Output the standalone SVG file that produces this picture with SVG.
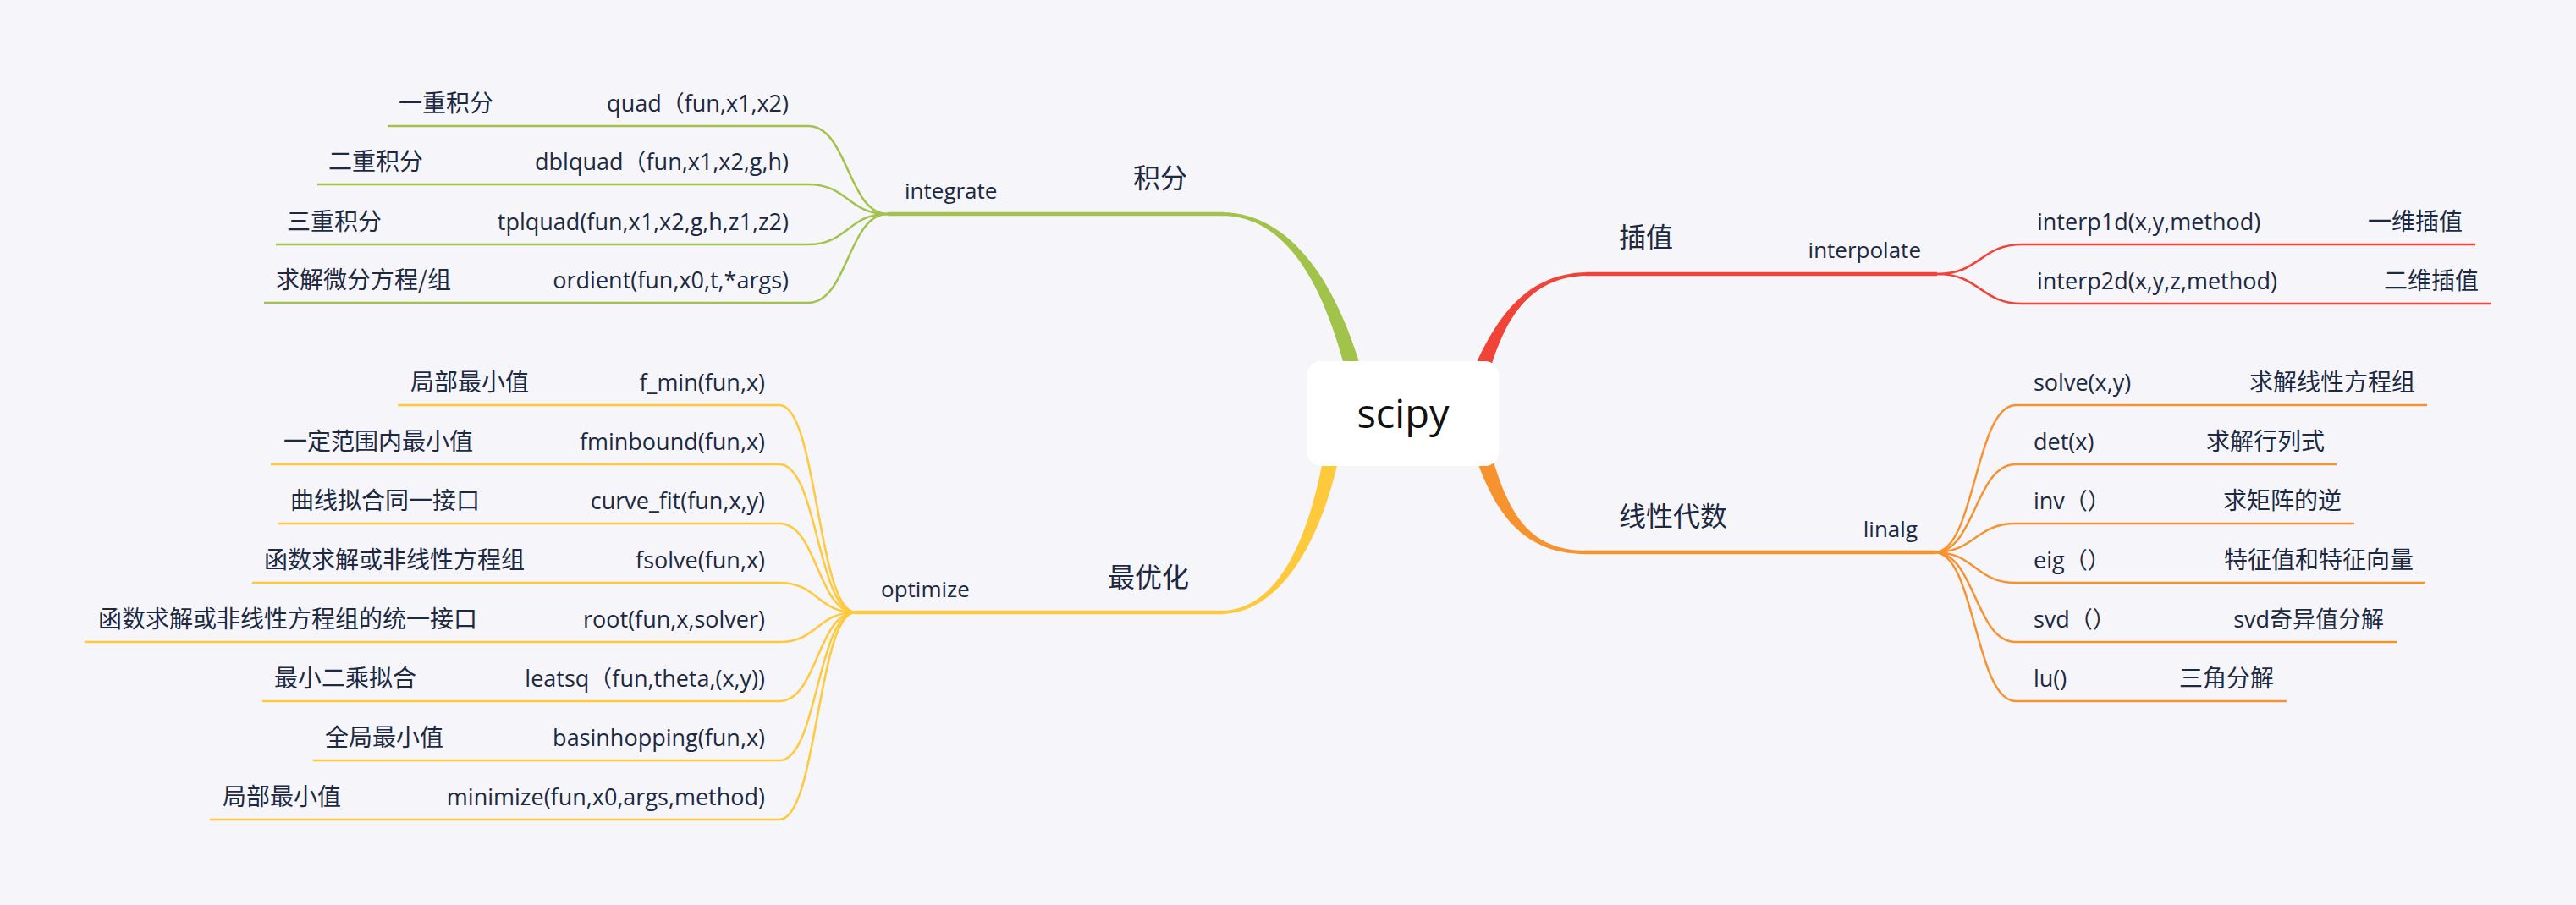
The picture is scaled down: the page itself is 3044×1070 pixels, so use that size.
<svg xmlns="http://www.w3.org/2000/svg" width="3044" height="1070" viewBox="0 0 3044 1070">
<style>
.t{font-family:"Open Sans","Noto Sans CJK SC",sans-serif;font-size:27px;fill:#1c2940}
.c{font-family:"Noto Sans CJK SC","Open Sans",sans-serif;font-size:28px;fill:#1c2940}
.s{font-family:"Open Sans","Noto Sans CJK SC",sans-serif;font-size:26px;fill:#1c2940}
.m{font-family:"Noto Sans CJK SC",sans-serif;font-size:32px;fill:#1c2940}
.e{text-anchor:end}
.lg{fill:none;stroke:#a2c34a;stroke-width:2.5}
.ly{fill:none;stroke:#fec93b;stroke-width:2.5}
.lr{fill:none;stroke:#f04438;stroke-width:2.5}
.lo{fill:none;stroke:#f7932f;stroke-width:2.5}
</style>
<rect width="3044" height="1070" fill="#f5f5fa"/>
<g id="connectors">
  <!-- main tapered branches -->
  <path d="M1443,251 C1521,251 1577,327 1609,438 L1591,442 C1563,333 1519,255 1443,255 Z" fill="#a2c34a"/>
  <line x1="1049" y1="253" x2="1446" y2="253" stroke="#a2c34a" stroke-width="4.5"/>
  <path d="M1443,726 C1511,726 1562,642 1584,532 L1566,528 C1548,638 1509,722 1443,722 Z" fill="#fec93b"/>
  <line x1="1011" y1="724" x2="1446" y2="724" stroke="#fec93b" stroke-width="4.5"/>
  <path d="M1877,322 C1809,322 1771,368 1741,437 L1759,443 C1779,372 1811,326 1877,326 Z" fill="#f04438"/>
  <line x1="1874" y1="324" x2="2289" y2="324" stroke="#f04438" stroke-width="4.5"/>
  <path d="M1875,651 C1807,651 1782,608 1761,532 L1743,538 C1768,612 1803,655 1875,655 Z" fill="#f7932f"/>
  <line x1="1872" y1="653" x2="2287" y2="653" stroke="#f7932f" stroke-width="4.5"/>

  <!-- integrate leaves -->
  <path class="lg" d="M458,149 H955 C1002,149 1002,253 1049,253"/>
  <path class="lg" d="M375,218 H955 C1002,218 1002,253 1049,253"/>
  <path class="lg" d="M326,289 H955 C1002,289 1002,253 1049,253"/>
  <path class="lg" d="M312,358 H955 C1002,358 1002,253 1049,253"/>

  <!-- optimize leaves -->
  <path class="ly" d="M470,479 H921 C966,479 966,724 1011,724"/>
  <path class="ly" d="M320,549 H921 C966,549 966,724 1011,724"/>
  <path class="ly" d="M328,619 H921 C966,619 966,724 1011,724"/>
  <path class="ly" d="M298,689 H921 C966,689 966,724 1011,724"/>
  <path class="ly" d="M100,759 H921 C966,759 966,724 1011,724"/>
  <path class="ly" d="M310,829 H921 C966,829 966,724 1011,724"/>
  <path class="ly" d="M370,899 H921 C966,899 966,724 1011,724"/>
  <path class="ly" d="M248,969 H921 C966,969 966,724 1011,724"/>

  <!-- interpolate leaves -->
  <path class="lr" d="M2289,324 C2340,324 2340,289 2390,289 H2925"/>
  <path class="lr" d="M2289,324 C2340,324 2340,359 2390,359 H2944"/>

  <!-- linalg leaves -->
  <path class="lo" d="M2286,653 C2334,653 2334,479 2382,479 H2868"/>
  <path class="lo" d="M2286,653 C2334,653 2334,549 2382,549 H2761"/>
  <path class="lo" d="M2286,653 C2334,653 2334,619 2382,619 H2782"/>
  <path class="lo" d="M2286,653 C2334,653 2334,689 2382,689 H2866"/>
  <path class="lo" d="M2286,653 C2334,653 2334,759 2382,759 H2832"/>
  <path class="lo" d="M2286,653 C2334,653 2334,829 2382,829 H2702"/>
</g>

<g id="root">
  <rect x="1545" y="427" width="226" height="124" rx="16" fill="#ffffff"/>
  <text x="1658" y="506" text-anchor="middle" font-family="'Open Sans',sans-serif" font-size="47" fill="#111111">scipy</text>
</g>

<g id="branch-integrate">
  <text class="m" x="1339" y="222">积分</text>
  <text class="s" x="1069" y="235">integrate</text>
</g>
<g id="leaf-int-1"><text class="c" x="471" y="132">一重积分</text><text class="t e" x="932" y="132">quad（fun,x1,x2)</text></g>
<g id="leaf-int-2"><text class="c" x="388" y="201">二重积分</text><text class="t e" x="932" y="201">dblquad（fun,x1,x2,g,h)</text></g>
<g id="leaf-int-3"><text class="c" x="339" y="272">三重积分</text><text class="t e" x="932" y="272">tplquad(fun,x1,x2,g,h,z1,z2)</text></g>
<g id="leaf-int-4"><text class="c" x="326" y="341">求解微分方程/组</text><text class="t e" x="932" y="341">ordient(fun,x0,t,*args)</text></g>

<g id="branch-optimize">
  <text class="m" x="1309" y="694">最优化</text>
  <text class="s" x="1041" y="706">optimize</text>
</g>
<g id="leaf-opt-1"><text class="c" x="485" y="462">局部最小值</text><text class="t e" x="904" y="462">f_min(fun,x)</text></g>
<g id="leaf-opt-2"><text class="c" x="335" y="532">一定范围内最小值</text><text class="t e" x="904" y="532">fminbound(fun,x)</text></g>
<g id="leaf-opt-3"><text class="c" x="343" y="602">曲线拟合同一接口</text><text class="t e" x="904" y="602">curve_fit(fun,x,y)</text></g>
<g id="leaf-opt-4"><text class="c" x="312" y="672">函数求解或非线性方程组</text><text class="t e" x="904" y="672">fsolve(fun,x)</text></g>
<g id="leaf-opt-5"><text class="c" x="116" y="742">函数求解或非线性方程组的统一接口</text><text class="t e" x="904" y="742">root(fun,x,solver)</text></g>
<g id="leaf-opt-6"><text class="c" x="324" y="812">最小二乘拟合</text><text class="t e" x="904" y="812">leatsq（fun,theta,(x,y))</text></g>
<g id="leaf-opt-7"><text class="c" x="384" y="882">全局最小值</text><text class="t e" x="904" y="882">basinhopping(fun,x)</text></g>
<g id="leaf-opt-8"><text class="c" x="263" y="952">局部最小值</text><text class="t e" x="904" y="952">minimize(fun,x0,args,method)</text></g>

<g id="branch-interpolate">
  <text class="m" x="1913" y="292">插值</text>
  <text class="s e" x="2270" y="305">interpolate</text>
</g>
<g id="leaf-itp-1"><text class="t" x="2407" y="272">interp1d(x,y,method)</text><text class="c e" x="2910" y="272">一维插值</text></g>
<g id="leaf-itp-2"><text class="t" x="2407" y="342">interp2d(x,y,z,method)</text><text class="c e" x="2929" y="342">二维插值</text></g>

<g id="branch-linalg">
  <text class="m" x="1913" y="622">线性代数</text>
  <text class="s e" x="2266" y="635">linalg</text>
</g>
<g id="leaf-lin-1"><text class="t" x="2403" y="462">solve(x,y)</text><text class="c e" x="2854" y="462">求解线性方程组</text></g>
<g id="leaf-lin-2"><text class="t" x="2403" y="532">det(x)</text><text class="c e" x="2747" y="532">求解行列式</text></g>
<g id="leaf-lin-3"><text class="t" x="2403" y="602">inv（）</text><text class="c e" x="2767" y="602">求矩阵的逆</text></g>
<g id="leaf-lin-4"><text class="t" x="2403" y="672">eig（）</text><text class="c e" x="2852" y="672">特征值和特征向量</text></g>
<g id="leaf-lin-5"><text class="t" x="2403" y="742">svd（）</text><text class="t e" x="2817" y="742">svd奇异值分解</text></g>
<g id="leaf-lin-6"><text class="t" x="2403" y="812">lu()</text><text class="c e" x="2687" y="812">三角分解</text></g>
</svg>
